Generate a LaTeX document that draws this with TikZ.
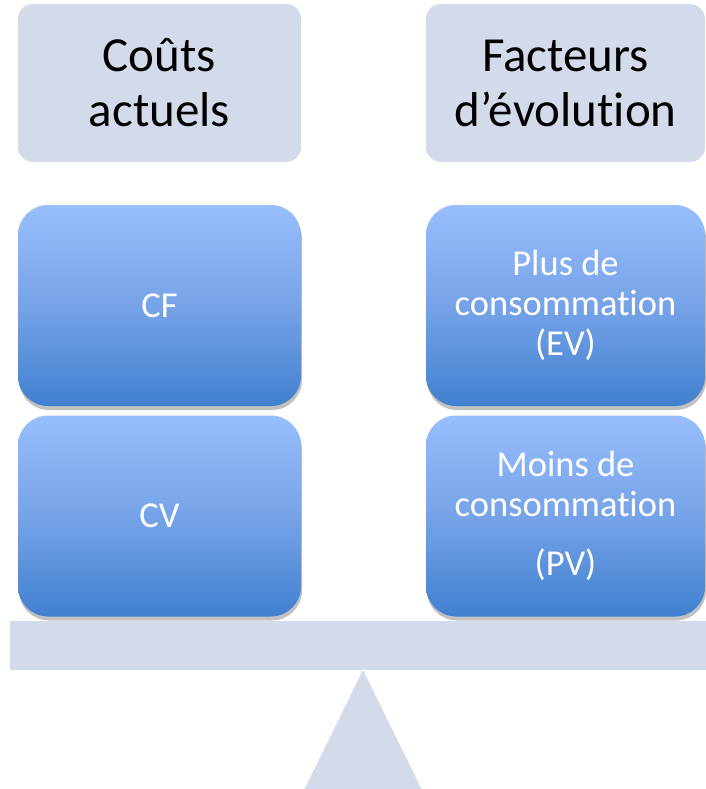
\documentclass[tikz,border=0pt]{standalone}
\usepackage{fontspec}
\setmainfont[Ligatures=NoCommon]{Carlito}
\usetikzlibrary{shadows}
\definecolor{hdr}{RGB}{211,219,234}
\definecolor{btop}{RGB}{152,190,252}
\definecolor{bmid}{RGB}{118,163,232}
\definecolor{bbot}{RGB}{64,128,207}
\tikzset{
  hdrbox/.style={fill=hdr, rounded corners=15pt, minimum width=283pt, minimum height=158pt, inner sep=0pt,
    align=center, font=\fontsize{49}{55}\selectfont, text=black},
  bluebox/.style={rounded corners=30pt, minimum width=283pt, minimum height=201pt, inner sep=0pt,
    top color=btop, bottom color=bbot, middle color=bmid,
    drop shadow={shadow xshift=1pt, shadow yshift=-4pt, opacity=0.35, fill=black!70},
    align=center, font=\fontsize{36.5}{40}\selectfont, text=white},
  scale part/.style={fill=hdr, draw=none}
}
\begin{document}
\begin{tikzpicture}[x=1pt,y=-1pt]
\useasboundingbox (0,0) rectangle (705,789);
\node[hdrbox] (h1) at (159.5,83) {Coûts\\actuels};
\node[hdrbox, minimum width=279pt] (h2) at (565.5,83) {Facteurs\\d’évolution};
\node[bluebox] (cf) at (159.5,305.5) {CF};
\node[bluebox] (cv) at (159.5,516) {CV};
\node[bluebox, minimum width=279pt] (ev) at (565.5,305.5) {Plus de\\consommation\\(EV)};
\node[bluebox, minimum width=279pt] (pv) at (565.5,516) {Moins de\\consommation\\[19pt](PV)};
\path[scale part] (10,621) rectangle (712,670);
\path[scale part] (363,670) -- (423,792) -- (303,792) -- cycle;
\end{tikzpicture}
\end{document}
